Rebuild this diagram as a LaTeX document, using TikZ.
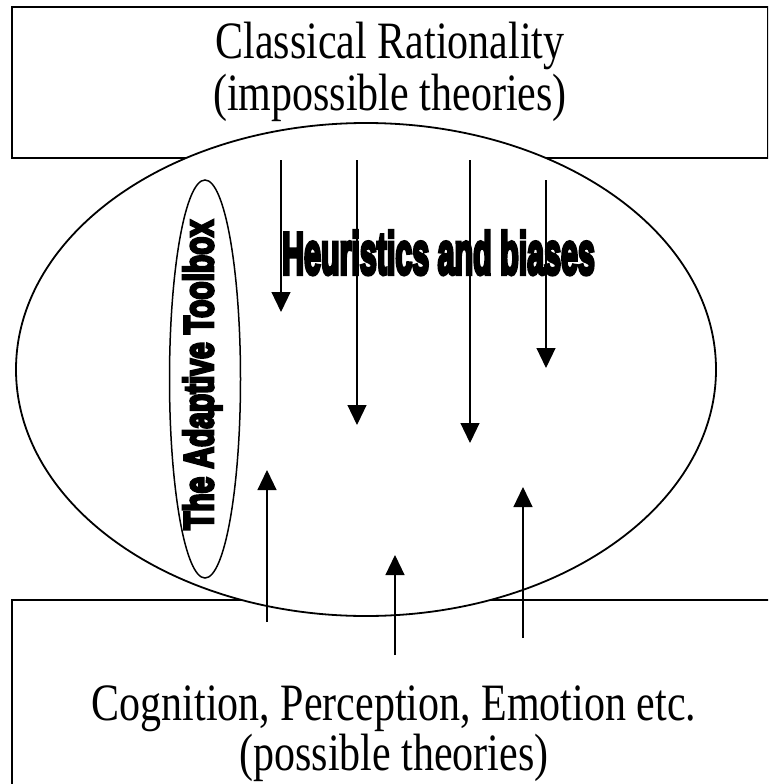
\documentclass[tikz,border=0pt]{standalone}
\usepackage{fontspec}
\setmainfont{Liberation Serif}
\newfontfamily\heavyfont[FakeBold=7]{Liberation Sans Bold}
\usetikzlibrary{arrows.meta,shapes.geometric}
\newcommand{\tallserif}[1]{\scalebox{1}[1.25]{#1}}
\tikzset{
  boxline/.style={draw=black, line width=2pt},
  ring/.style={draw=black, line width=1.8pt, ellipse, inner sep=0pt},
  serifbig/.style={font=\fontsize{42}{50}\selectfont, inner sep=0pt, anchor=base},
  heavy/.style={font=\heavyfont, inner sep=0pt, anchor=base},
  pointer/.style={line width=1.2pt, -{Triangle[length=20pt,width=19pt]}}
}
\begin{document}
\begin{tikzpicture}[x=1pt,y=-1pt]
\useasboundingbox (0,0) rectangle (768,784);
\clip (0,0) rectangle (768,784);
\fill[white] (0,0) rectangle (768,784);
% boxes
\node[boxline, anchor=north west, minimum width=756pt, minimum height=151pt, inner sep=0pt] (topbox) at (11,6) {};
\node[boxline, anchor=north west, minimum width=800pt, minimum height=250pt, inner sep=0pt] (botbox) at (11,599) {};
% big ellipse
\node[ring, fill=white, minimum width=700pt, minimum height=493pt] (big) at (366,369.5) {};
% small ellipse
\node[ring, line width=1.5pt, minimum width=71pt, minimum height=398pt] (small) at (205,379) {};
% texts
\node[serifbig] (t1) at (390,59) {\tallserif{Classical Rationality}};
\node[serifbig] (t2) at (390,110) {\tallserif{(impossible theories)}};
\node[serifbig] (b1) at (394,720) {\tallserif{Cognition, Perception, Emotion etc.}};
\node[serifbig] (b2) at (394,770) {\tallserif{(possible theories)}};
\node[heavy, font=\heavyfont\fontsize{53}{60}\selectfont] (hb) at (438.5,274) {\scalebox{0.574}[1.12]{Heuristics and biases}};
\node[heavy, rotate=90, font=\heavyfont\fontsize{36}{40}\selectfont] (at) at (213,375) {\scalebox{0.83}[1.15]{The Adaptive Toolbox}};
% arrows
\coordinate (d1s) at (281,160); \coordinate (d1e) at (281,312);
\coordinate (d2s) at (357,160); \coordinate (d2e) at (357,425);
\coordinate (d3s) at (470,160); \coordinate (d3e) at (470,443);
\coordinate (d4s) at (546,180); \coordinate (d4e) at (546,368);
\coordinate (u1s) at (267,622); \coordinate (u1e) at (267,470);
\coordinate (u2s) at (395,655); \coordinate (u2e) at (395,555);
\coordinate (u3s) at (523,638); \coordinate (u3e) at (523,487);
\foreach \a in {d1,d2,d3,d4,u1,u2,u3}{
  \draw[pointer] (\a s) -- (\a e);
}
\end{tikzpicture}
\end{document}
